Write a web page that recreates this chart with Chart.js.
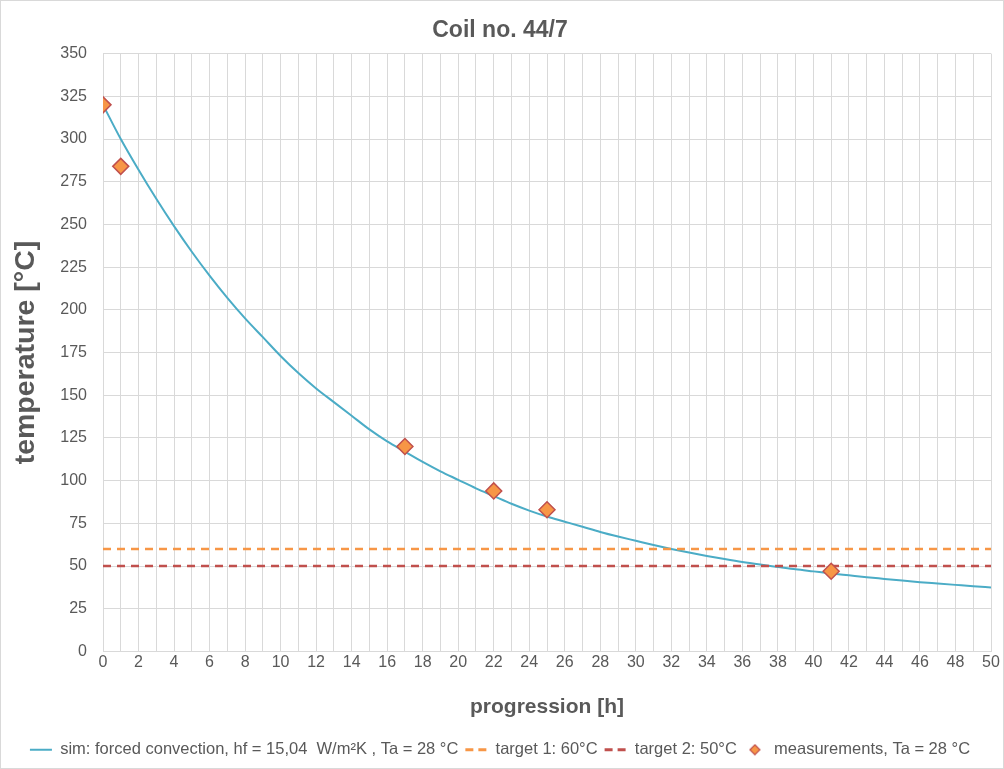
<!DOCTYPE html>
<html lang="en">
  <head>
    <meta charset="UTF-8" />
    <title>Coil no. 44/7</title>
    <script src="https://cdn.jsdelivr.net/npm/chart.js"></script>
    <style>
      html, body { margin: 0; padding: 0; background: #fff; }
      #wrap {
        width: 1004px;
        height: 769px;
        box-sizing: border-box;
        border: 1px solid #d9d9d9;
        position: relative;
      }
    </style>
  </head>
  <body>
    <div id="wrap"><canvas id="coilChart"></canvas></div>
    <script>
      // hours for the simulated curve
      const simHours = [
        0, 1, 2, 3, 4, 5, 6, 7, 8, 9, 10, 11, 12, 13, 14, 15, 16, 17, 18, 19, 20,
        21, 22, 23, 24, 25, 26, 27, 28, 29, 30, 31, 32, 33, 34, 35, 36, 37, 38,
        39, 40, 41, 42, 43, 44, 45, 46, 47, 48, 49, 50,
      ];
      // simulated temperature
      const simTemp = [
        320, 300, 282, 265, 249, 234, 220, 207, 195, 184, 173, 163, 154, 146,
        138, 130, 123, 117, 111, 105.5, 100.5, 95.5, 91, 86.5, 82.5, 79, 76,
        73, 70, 67.3, 64.8, 62.3, 60, 57.9, 55.9, 54.1, 52.4, 50.9, 49.5, 48.1,
        46.9, 45.7, 44.6, 43.5, 42.5, 41.5, 40.6, 39.8, 39, 38.2, 37.5,
      ];
      // measurement points
      const measHours = [0, 1, 17, 22, 25, 41];
      const measTemp = [320, 284, 120, 94, 83, 47];
      // target lines
      const targetHours = [0, 50];
      const target1 = [60, 60];
      const target2 = [50, 50];

      const grey = "#595959";
      const gridColor = "#d9d9d9";
      const fontFamily = "'Liberation Sans', Arial, sans-serif";

      function toPoints(xs, ys) {
        return xs.map((x, i) => ({ x: x, y: ys[i] }));
      }

      // small diamond used as the legend symbol of the measurements
      const diamond = document.createElement("canvas");
      diamond.width = 12;
      diamond.height = 12;
      const dctx = diamond.getContext("2d");
      dctx.beginPath();
      dctx.moveTo(6, 1);
      dctx.lineTo(11, 6);
      dctx.lineTo(6, 11);
      dctx.lineTo(1, 6);
      dctx.closePath();
      dctx.fillStyle = "#f79646";
      dctx.fill();
      dctx.lineWidth = 1.2;
      dctx.strokeStyle = "#c0504d";
      dctx.stroke();

      const ctx = document.getElementById("coilChart").getContext("2d");
      const coilChart = new Chart(ctx, {
        type: "line",
        data: {
          datasets: [
            {
              label: "sim: forced convection, hf = 15,04  W/m²K , Ta = 28 °C",
              data: toPoints(simHours, simTemp),
              borderColor: "#4bacc6",
              backgroundColor: "#4bacc6",
              borderWidth: 2,
              pointRadius: 0,
              pointStyle: "line",
              cubicInterpolationMode: "monotone",
              order: 3,
            },
            {
              label: "target 1: 60°C",
              data: toPoints(targetHours, target1),
              borderColor: "#f79646",
              backgroundColor: "#f79646",
              borderWidth: 2.5,
              borderDash: [8, 6],
              pointRadius: 0,
              pointStyle: "line",
              order: 2,
            },
            {
              label: "target 2: 50°C",
              data: toPoints(targetHours, target2),
              borderColor: "#c0504d",
              backgroundColor: "#c0504d",
              borderWidth: 2.5,
              borderDash: [8, 6],
              pointRadius: 0,
              pointStyle: "line",
              order: 1,
            },
            {
              label: "measurements, Ta = 28 °C",
              data: toPoints(measHours, measTemp),
              showLine: false,
              borderColor: "#c0504d",
              backgroundColor: "#f79646",
              borderWidth: 1.5,
              pointStyle: "rectRot",
              pointRadius: 8,
              order: 0,
            },
          ],
        },
        options: {
          responsive: true,
          maintainAspectRatio: false,
          animation: false,
          layout: { padding: { left: 8, right: 12, top: 0, bottom: 0 } },
          plugins: {
            title: {
              display: true,
              text: "Coil no. 44/7",
              color: grey,
              font: { family: fontFamily, size: 23, weight: "bold" },
              padding: { top: 16, bottom: 9 },
            },
            legend: {
              position: "bottom",
              labels: {
                color: grey,
                font: { family: fontFamily, size: 16.5 },
                usePointStyle: true,
                pointStyleWidth: 22,
                boxHeight: 10,
                padding: 7,
                sort: (a, b) => a.datasetIndex - b.datasetIndex,
                generateLabels: (chart) => {
                  const items = Chart.defaults.plugins.legend.labels.generateLabels(chart);
                  items.forEach((it) => {
                    const ds = chart.data.datasets[it.datasetIndex];
                    if (it.datasetIndex === 3) {
                      it.pointStyle = diamond;
                    } else {
                      it.lineWidth = it.datasetIndex === 0 ? 2 : 3;
                      it.lineDash = it.datasetIndex === 0 ? [] : [8, 5];
                      it.strokeStyle = ds.borderColor;
                    }
                  });
                  return items;
                },
              },
            },
            tooltip: { enabled: false },
          },
          scales: {
            x: {
              type: "linear",
              min: 0,
              max: 50,
              afterFit: (scale) => {
                scale.height = 83;
              },
              title: {
                display: true,
                text: "progression [h]",
                color: grey,
                font: { family: fontFamily, size: 21, weight: "bold" },
                padding: { top: 0, bottom: 15 },
              },
              ticks: {
                stepSize: 1,
                autoSkip: false,
                maxRotation: 0,
                color: grey,
                font: { family: fontFamily, size: 16 },
                padding: 1,
                callback: (v) => (v % 2 === 0 ? v : ""),
              },
              grid: { color: gridColor, tickLength: 0 },
              border: { color: gridColor },
            },
            y: {
              min: 0,
              max: 350,
              afterFit: (scale) => {
                scale.width = 94;
              },
              title: {
                display: true,
                text: "temperature [°C]",
                color: grey,
                font: { family: fontFamily, size: 28.5, weight: "bold" },
                padding: { top: 0, bottom: 6 },
              },
              ticks: {
                stepSize: 25,
                color: grey,
                font: { family: fontFamily, size: 16 },
                padding: 16,
              },
              grid: { color: gridColor, tickLength: 0 },
              border: { color: gridColor },
            },
          },
        },
      });
    </script>
  </body>
</html>
